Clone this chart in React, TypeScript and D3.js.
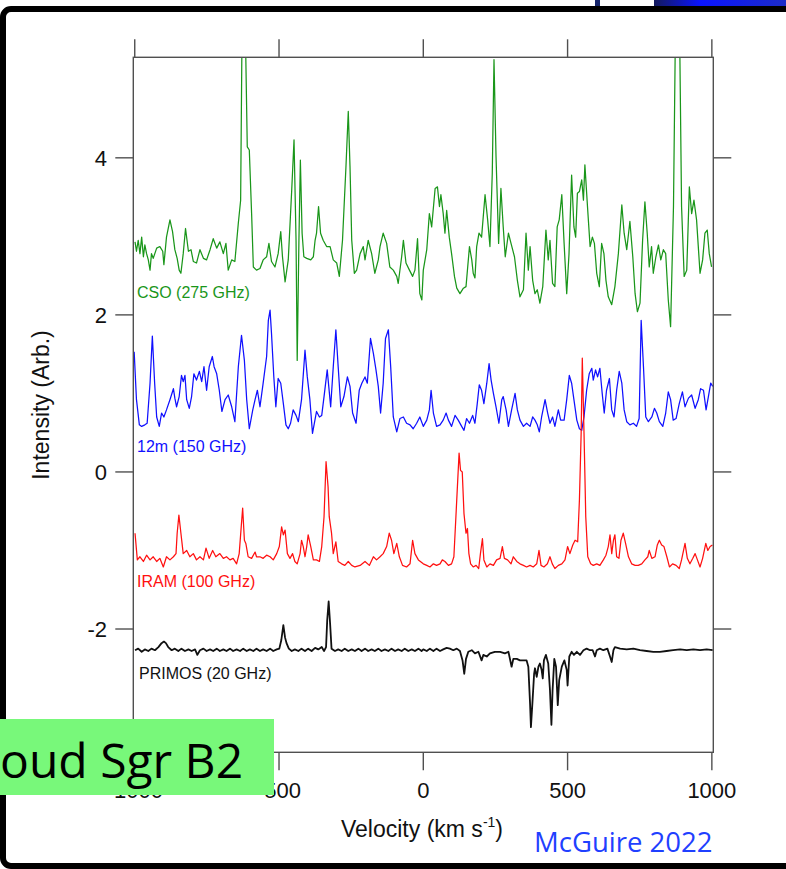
import React from "react";
import * as d3 from "d3";

const xTicks = [-1000, -500, 0, 500, 1000];
const yTicks = [-2, 0, 2, 4];

const seriesLabels = ["CSO (275 GHz)", "12m (150 GHz)", "IRAM (100 GHz)", "PRIMOS (20 GHz)"];

// [velocity km/s, intensity arb.]
const cso: [number, number][] = [
  [-999,2.93],[-994,2.81],[-988,2.95],[-982,2.78],[-976,2.99],[-970,2.74],[-965,2.89],[-959,2.78],[-953,2.70],[-947,2.57],
  [-942,2.78],[-936,2.72],[-924,2.85],[-913,2.87],[-903,2.81],[-899,2.64],[-890,2.99],[-878,3.21],[-869,3.06],[-861,2.83],
  [-853,2.72],[-846,2.57],[-840,2.53],[-832,2.78],[-824,3.10],[-814,2.81],[-805,2.83],[-797,2.68],[-786,2.66],[-774,2.83],
  [-762,2.72],[-751,2.70],[-739,2.83],[-728,2.97],[-716,2.85],[-705,2.93],[-693,2.78],[-684,2.91],[-676,2.57],[-664,2.70],
  [-653,2.68],[-641,3.17],[-633,3.46],[-628,5.7],[-617,5.7],[-610,4.14],[-603,4.10],[-595,3.29],[-589,2.61],[-578,2.57],
  [-566,2.59],[-555,2.70],[-543,2.74],[-535,2.91],[-526,2.68],[-514,2.61],[-503,2.78],[-494,3.06],[-488,2.74],[-479,2.42],
  [-468,2.70],[-456,3.59],[-448,4.23],[-441,2.95],[-437,1.42],[-431,2.95],[-426,3.97],[-420,3.04],[-414,2.74],[-404,2.72],
  [-390,2.70],[-381,2.74],[-375,2.95],[-370,3.04],[-363,3.38],[-356,3.04],[-347,2.95],[-335,2.87],[-323,2.87],[-312,2.70],
  [-300,2.66],[-291,2.49],[-280,2.95],[-268,3.89],[-260,4.59],[-254,3.89],[-248,2.95],[-239,2.53],[-231,2.57],[-219,2.78],
  [-208,2.87],[-202,2.70],[-191,2.95],[-179,2.78],[-168,2.53],[-156,2.70],[-150,2.87],[-139,3.04],[-127,2.91],[-116,2.61],
  [-104,2.57],[-92,2.49],[-87,2.40],[-75,2.74],[-69,2.95],[-60,2.66],[-48,2.57],[-37,2.49],[-29,2.57],[-20,2.97],
  [-12,2.27],[-5,2.19],[0,2.57],[12,2.83],[21,3.29],[29,3.12],[41,3.61],[49,3.63],[56,3.38],[61,3.53],
  [69,3.29],[75,3.04],[81,3.33],[90,2.99],[98,2.78],[108,2.49],[116,2.34],[127,2.27],[139,2.34],[148,2.36],
  [160,2.87],[168,2.70],[173,2.53],[179,2.47],[185,2.87],[193,3.04],[202,2.99],[214,3.53],[223,3.21],[231,2.87],
  [239,3.80],[245,5.25],[252,4.02],[261,2.91],[269,3.61],[277,3.12],[284,2.74],[295,3.04],[304,2.91],[316,2.74],
  [326,2.44],[335,2.23],[347,2.32],[356,3.04],[364,2.57],[370,2.87],[379,2.44],[387,2.27],[395,2.32],[404,2.15],
  [414,2.36],[425,3.08],[433,2.70],[439,2.95],[448,2.40],[456,2.36],[464,3.12],[471,3.21],[480,3.53],[488,2.91],
  [497,2.27],[505,2.78],[514,3.78],[522,3.12],[528,2.99],[534,3.55],[541,3.57],[549,3.72],[555,3.46],[560,3.91],
  [569,3.38],[578,2.87],[586,2.99],[593,2.91],[601,2.53],[610,2.36],[618,2.91],[626,2.78],[633,2.44],[641,2.23],
  [653,2.13],[664,2.36],[676,2.78],[688,3.40],[696,3.04],[705,2.83],[716,3.19],[726,2.74],[734,2.27],[742,2.04],
  [751,2.15],[760,2.95],[768,3.44],[776,3.04],[783,2.61],[791,2.87],[797,2.53],[806,2.74],[815,2.89],[823,2.70],
  [832,2.83],[840,2.78],[849,2.19],[857,1.85],[867,3.38],[874,5.7],[888,5.7],[895,3.38],[904,2.49],[913,2.57],
  [922,3.63],[930,3.29],[938,3.46],[947,3.21],[959,2.53],[968,2.70],[976,3.04],[984,3.08],[991,2.78],[999,2.61],
];

const m12: [number, number][] = [
  [-1002,1.53],[-994,0.92],[-984,0.60],[-976,0.58],[-965,0.60],[-957,0.62],[-947,1.13],[-939,1.73],[-931,1.13],[-924,0.70],
  [-915,0.58],[-907,0.75],[-899,0.70],[-890,0.79],[-878,0.92],[-866,1.06],[-861,0.94],[-855,0.83],[-846,0.96],[-838,1.23],
  [-832,1.15],[-826,1.23],[-820,0.92],[-811,0.81],[-803,0.96],[-795,1.25],[-786,1.17],[-776,1.28],[-768,1.15],[-760,1.34],
  [-751,1.04],[-742,1.34],[-731,1.47],[-725,1.34],[-716,1.25],[-707,1.04],[-698,0.77],[-687,0.92],[-676,0.98],[-664,0.83],
  [-653,0.64],[-641,1.34],[-630,1.74],[-620,1.42],[-612,0.92],[-603,0.55],[-591,0.79],[-583,0.92],[-575,1.04],[-566,0.83],
  [-555,1.13],[-543,1.47],[-537,1.93],[-531,2.06],[-526,1.76],[-518,1.21],[-511,0.83],[-503,1.19],[-494,1.13],[-485,0.87],
  [-476,0.60],[-468,0.55],[-460,0.62],[-451,0.79],[-441,0.72],[-433,0.64],[-422,0.92],[-410,1.55],[-402,1.21],[-393,0.92],
  [-384,0.49],[-370,0.77],[-360,0.70],[-352,0.72],[-344,0.96],[-333,1.30],[-321,0.83],[-312,1.34],[-303,1.81],[-295,1.34],
  [-286,0.83],[-275,0.96],[-263,1.21],[-254,1.09],[-245,0.75],[-233,0.62],[-222,1.04],[-213,1.13],[-202,1.21],[-194,1.13],
  [-183,1.70],[-173,1.51],[-164,1.30],[-156,1.09],[-148,0.75],[-139,1.13],[-131,1.70],[-121,1.81],[-113,1.34],[-104,0.70],
  [-92,0.51],[-81,0.68],[-69,0.70],[-58,0.62],[-46,0.60],[-35,0.55],[-23,0.62],[-12,0.70],[0,0.58],[12,0.66],
  [21,0.79],[27,1.04],[35,0.75],[46,0.58],[58,0.60],[69,0.66],[79,0.75],[87,0.66],[98,0.58],[110,0.72],
  [121,0.66],[133,0.58],[141,0.53],[150,0.68],[160,0.62],[171,0.72],[179,0.62],[187,0.87],[194,1.11],[202,1.04],
  [210,0.87],[220,1.13],[228,1.38],[235,1.17],[243,1.00],[252,0.83],[262,0.62],[272,0.92],[277,0.96],[287,0.79],
  [295,0.58],[306,0.79],[318,1.00],[326,0.79],[335,0.66],[347,0.58],[358,0.62],[370,0.58],[379,0.70],[387,0.66],
  [395,0.60],[402,0.51],[410,0.70],[422,0.92],[431,0.75],[439,0.62],[448,0.70],[456,0.58],[468,0.79],[476,0.66],
  [488,0.66],[497,0.92],[506,1.23],[514,1.13],[522,0.92],[532,0.66],[541,0.55],[549,0.53],[557,0.70],[566,1.04],
  [575,1.25],[584,1.32],[589,1.17],[597,1.30],[604,1.21],[612,1.32],[620,1.00],[627,0.75],[635,1.04],[645,1.19],
  [653,0.79],[661,0.70],[670,1.04],[679,1.28],[688,1.13],[696,0.79],[705,0.64],[716,0.60],[728,0.62],[739,0.58],
  [748,0.68],[755,1.93],[763,1.34],[771,0.70],[780,0.64],[792,0.70],[801,0.81],[809,0.75],[818,0.64],[830,0.58],
  [840,0.75],[849,1.02],[857,0.92],[866,0.66],[876,0.68],[887,0.87],[898,1.02],[907,0.83],[919,0.94],[930,0.98],
  [942,0.81],[953,0.92],[961,1.06],[971,1.04],[980,0.79],[988,0.96],[996,1.13],[1003,1.09],
];

const iram: [number, number][] = [
  [-999,-0.78],[-991,-1.12],[-982,-1.08],[-970,-1.14],[-959,-1.06],[-947,-1.12],[-936,-1.08],[-924,-1.14],[-913,-1.10],[-901,-1.21],
  [-890,-1.08],[-878,-1.12],[-866,-1.08],[-857,-1.04],[-853,-0.78],[-847,-0.55],[-840,-0.78],[-832,-1.04],[-820,-1.00],[-809,-1.08],
  [-797,-1.04],[-786,-1.12],[-774,-1.08],[-762,-1.12],[-753,-0.97],[-742,-1.10],[-730,-1.00],[-719,-1.08],[-705,-1.04],[-693,-1.10],
  [-682,-1.08],[-670,-1.12],[-659,-1.10],[-647,-1.17],[-638,-1.04],[-631,-0.70],[-626,-0.46],[-620,-0.87],[-615,-0.91],[-607,-1.08],
  [-595,-1.10],[-583,-1.02],[-578,-1.08],[-566,-1.08],[-555,-1.10],[-543,-1.06],[-531,-1.08],[-520,-1.12],[-508,-1.04],[-499,-0.95],
  [-491,-0.70],[-485,-0.80],[-479,-0.74],[-471,-1.04],[-462,-1.10],[-453,-1.04],[-445,-1.14],[-437,-1.17],[-427,-1.04],[-422,-0.87],
  [-416,-0.95],[-410,-1.08],[-404,-0.95],[-399,-0.80],[-390,-0.95],[-381,-1.12],[-370,-1.12],[-360,-1.14],[-352,-0.95],[-344,-0.57],
  [-337,0.13],[-330,-0.19],[-326,-0.57],[-318,-0.78],[-312,-1.04],[-303,-0.89],[-295,-1.14],[-283,-1.17],[-272,-1.19],[-260,-1.14],
  [-248,-1.19],[-237,-1.21],[-219,-1.19],[-202,-1.14],[-187,-1.19],[-173,-1.08],[-162,-1.12],[-150,-1.08],[-139,-1.04],[-127,-0.95],
  [-118,-0.78],[-110,-0.87],[-102,-1.04],[-92,-0.91],[-83,-1.08],[-72,-1.19],[-58,-1.21],[-46,-1.17],[-37,-0.87],[-29,-1.04],
  [-17,-1.12],[0,-1.17],[12,-1.19],[23,-1.21],[35,-1.17],[46,-1.19],[58,-1.17],[66,-1.12],[75,-1.14],[87,-1.19],
  [98,-1.17],[106,-1.08],[113,-0.57],[124,0.24],[129,0.02],[135,0.00],[141,-0.53],[148,-0.78],[153,-0.72],[158,-1.04],
  [164,-1.17],[173,-1.21],[183,-1.19],[192,-1.23],[198,-1.04],[205,-0.85],[210,-1.12],[220,-1.21],[231,-1.17],[243,-1.19],
  [254,-1.12],[266,-1.10],[274,-0.95],[281,-1.10],[292,-1.12],[304,-1.17],[312,-1.08],[324,-1.14],[335,-1.17],[347,-1.19],
  [358,-1.21],[370,-1.19],[381,-1.21],[393,-1.17],[401,-1.00],[408,-1.19],[418,-1.21],[430,-1.17],[439,-1.08],[447,-1.17],
  [456,-1.23],[468,-1.19],[480,-1.17],[491,-1.12],[500,-0.95],[508,-1.04],[518,-0.93],[526,-0.87],[535,-0.89],[541,-0.36],
  [547,0.49],[551,1.45],[557,0.49],[563,-0.57],[570,-1.08],[580,-1.17],[589,-1.19],[601,-1.17],[612,-1.19],[624,-1.12],
  [633,-1.06],[641,-0.95],[647,-0.80],[653,-1.04],[659,-0.87],[664,-0.80],[670,-1.08],[678,-1.10],[685,-0.87],[693,-0.78],
  [701,-0.91],[711,-1.08],[722,-1.17],[734,-1.19],[745,-1.19],[757,-1.17],[768,-1.12],[778,-1.08],[783,-1.00],[792,-1.10],
  [803,-1.08],[811,-0.93],[818,-0.87],[826,-0.93],[834,-0.95],[844,-1.08],[853,-1.21],[864,-1.17],[876,-1.19],[887,-1.23],
  [895,-1.12],[907,-0.91],[915,-1.10],[924,-1.17],[934,-1.10],[942,-1.04],[950,-1.12],[959,-1.21],[968,-1.10],[979,-0.91],
  [986,-1.00],[994,-0.95],[1002,-0.93],
];

const primos: [number, number][] = [
  [-999,-2.27],[-988,-2.25],[-976,-2.29],[-965,-2.26],[-953,-2.28],[-942,-2.25],[-930,-2.27],[-918,-2.23],[-907,-2.18],[-899,-2.16],
  [-892,-2.18],[-884,-2.23],[-872,-2.27],[-861,-2.25],[-849,-2.28],[-838,-2.25],[-826,-2.28],[-814,-2.26],[-803,-2.28],[-791,-2.26],
  [-783,-2.33],[-774,-2.27],[-762,-2.25],[-751,-2.28],[-739,-2.26],[-728,-2.28],[-716,-2.25],[-705,-2.28],[-693,-2.26],[-682,-2.28],
  [-670,-2.25],[-659,-2.28],[-647,-2.26],[-635,-2.28],[-624,-2.25],[-612,-2.28],[-601,-2.26],[-589,-2.28],[-578,-2.25],[-566,-2.28],
  [-555,-2.26],[-543,-2.28],[-531,-2.25],[-520,-2.28],[-508,-2.26],[-499,-2.25],[-492,-2.14],[-485,-1.95],[-479,-2.11],[-474,-2.18],
  [-466,-2.25],[-456,-2.28],[-445,-2.26],[-433,-2.28],[-422,-2.25],[-410,-2.28],[-399,-2.25],[-387,-2.28],[-375,-2.24],[-364,-2.26],
  [-352,-2.23],[-344,-2.28],[-337,-2.23],[-333,-1.89],[-328,-1.65],[-323,-1.93],[-318,-2.25],[-306,-2.28],[-295,-2.26],[-283,-2.28],
  [-272,-2.25],[-260,-2.28],[-248,-2.26],[-237,-2.28],[-225,-2.25],[-214,-2.28],[-202,-2.25],[-191,-2.28],[-179,-2.26],[-168,-2.28],
  [-156,-2.25],[-145,-2.28],[-133,-2.26],[-121,-2.28],[-110,-2.25],[-98,-2.28],[-87,-2.26],[-75,-2.28],[-64,-2.25],[-52,-2.28],
  [-40,-2.26],[-29,-2.28],[-17,-2.25],[-6,-2.28],[0,-2.26],[12,-2.28],[23,-2.25],[35,-2.28],[46,-2.25],[58,-2.28],
  [69,-2.26],[81,-2.24],[92,-2.25],[104,-2.27],[116,-2.25],[127,-2.28],[136,-2.40],[142,-2.57],[148,-2.38],[156,-2.29],
  [168,-2.27],[179,-2.31],[191,-2.29],[202,-2.40],[208,-2.33],[220,-2.35],[231,-2.31],[248,-2.29],[266,-2.29],[283,-2.31],
  [295,-2.29],[306,-2.48],[312,-2.38],[324,-2.38],[335,-2.40],[347,-2.40],[358,-2.40],[364,-2.48],[370,-2.95],[373,-3.25],
  [378,-2.95],[384,-2.57],[387,-2.50],[393,-2.61],[399,-2.48],[404,-2.44],[410,-2.52],[414,-2.63],[418,-2.40],[425,-2.33],
  [433,-2.44],[439,-2.78],[444,-3.22],[448,-2.78],[454,-2.38],[460,-2.48],[466,-2.97],[471,-2.65],[480,-2.48],[489,-2.40],
  [497,-2.52],[500,-2.72],[506,-2.35],[514,-2.29],[522,-2.33],[532,-2.29],[543,-2.33],[555,-2.27],[566,-2.25],[578,-2.27],
  [587,-2.27],[595,-2.35],[601,-2.27],[612,-2.25],[624,-2.27],[638,-2.25],[647,-2.35],[653,-2.42],[659,-2.27],[664,-2.23],
  [682,-2.25],[705,-2.26],[728,-2.25],[751,-2.27],[774,-2.28],[797,-2.29],[820,-2.29],[843,-2.28],[866,-2.27],[890,-2.26],
  [913,-2.27],[936,-2.26],[959,-2.27],[982,-2.26],[1003,-2.27],
];

const FONT = "'Liberation Sans', Arial, Helvetica, sans-serif";

export default function App() {
  const left = 133.3, right = 713.3, top = 57.3, bottom = 752.3;
  const x = d3.scaleLinear().domain([-1005, 1005]).range([left, right]);
  const y = d3.scaleLinear().domain([-3.57, 5.28]).range([bottom, top]);
  const line = d3.line<[number, number]>().x((d) => x(d[0])).y((d) => y(d[1]));

  const series = [
    { data: cso, color: "#1a961a", w: 1.25, label: seriesLabels[0], ly: 298, lx: 137 },
    { data: m12, color: "#1010ff", w: 1.25, label: seriesLabels[1], ly: 452, lx: 137 },
    { data: iram, color: "#ff1010", w: 1.25, label: seriesLabels[2], ly: 587, lx: 137 },
    { data: primos, color: "#111111", w: 1.8, label: seriesLabels[3], ly: 679, lx: 139 },
  ];
  const axisColor = "#505050";
  const tl = 18;

  return (
    <div style={{ position: "absolute", left: 0, top: 0 }}>
      <svg width={786} height={869} style={{ display: "block" }}>
        <defs>
          <clipPath id="plotclip">
            <rect x={left} y={top} width={right - left} height={bottom - top} />
          </clipPath>
          <linearGradient id="topbar" x1="0" x2="1" y1="0" y2="0">
            <stop offset="0%" stopColor="#141a5c" />
            <stop offset="35%" stopColor="#0a14ff" />
            <stop offset="100%" stopColor="#1c2cc8" />
          </linearGradient>
        </defs>
        <rect x={0} y={0} width={786} height={869} fill="#ffffff" />
        {/* slide decoration */}
        <rect x={595} y={0} width={5} height={7} fill="#16256b" />
        <rect x={654} y={0} width={132} height={6} fill="url(#topbar)" />
        <rect x={3} y={9} width={820} height={857} rx={8} fill="none" stroke="#000" strokeWidth={6} />

        {/* traces */}
        <g clipPath="url(#plotclip)" fill="none" strokeLinejoin="round">
          {series.map((s, i) => (
            <path key={i} d={line(s.data) || ""} stroke={s.color} strokeWidth={s.w} />
          ))}
        </g>

        {/* frame */}
        <rect x={left} y={top} width={right - left} height={bottom - top} fill="none" stroke={axisColor} strokeWidth={1.4} />
        {xTicks.map((t) => (
          <g key={"x" + t}>
            <line x1={x(t)} x2={x(t)} y1={top} y2={top - tl} stroke={axisColor} strokeWidth={1.4} />
            <line x1={x(t)} x2={x(t)} y1={bottom} y2={bottom + tl} stroke={axisColor} strokeWidth={1.4} />
            <text x={x(t)} y={798} textAnchor="middle" fontFamily={FONT} fontSize={22} fill="#111">
              {t}
            </text>
          </g>
        ))}
        {yTicks.map((t) => (
          <g key={"y" + t}>
            <line x1={left} x2={left - tl} y1={y(t)} y2={y(t)} stroke={axisColor} strokeWidth={1.4} />
            <line x1={right} x2={right + tl} y1={y(t)} y2={y(t)} stroke={axisColor} strokeWidth={1.4} />
            <text x={107} y={y(t) + 7.8} textAnchor="end" fontFamily={FONT} fontSize={22} fill="#111">
              {t}
            </text>
          </g>
        ))}

        {/* series labels */}
        {series.map((s, i) => (
          <text key={"l" + i} x={s.lx} y={s.ly} fontFamily={FONT} fontSize={16} fill={s.color}>
            {s.label}
          </text>
        ))}

        {/* axis titles */}
        <text transform="translate(49,405) rotate(-90)" textAnchor="middle" fontFamily={FONT} fontSize={23} fill="#111">
          Intensity (Arb.)
        </text>
        <text x={422} y={837} textAnchor="middle" fontFamily={FONT} fontSize={23} fill="#111">
          <tspan>Velocity (km s</tspan>
          <tspan fontSize={14} dy={-10}>-1</tspan>
          <tspan dy={10}>)</tspan>
        </text>

        {/* overlay annotations */}
        <rect x={0} y={719} width={274} height={76} fill="#78f87a" />
        <text x={0} y={778} fontFamily="'Open Sans', sans-serif" fontSize={48} fill="#000">
          oud Sgr B2
        </text>
        <text x={534} y={852} fontFamily="'Open Sans', sans-serif" fontSize={27.5} fill="#1f40ff">
          McGuire 2022
        </text>
      </svg>
    </div>
  );
}
